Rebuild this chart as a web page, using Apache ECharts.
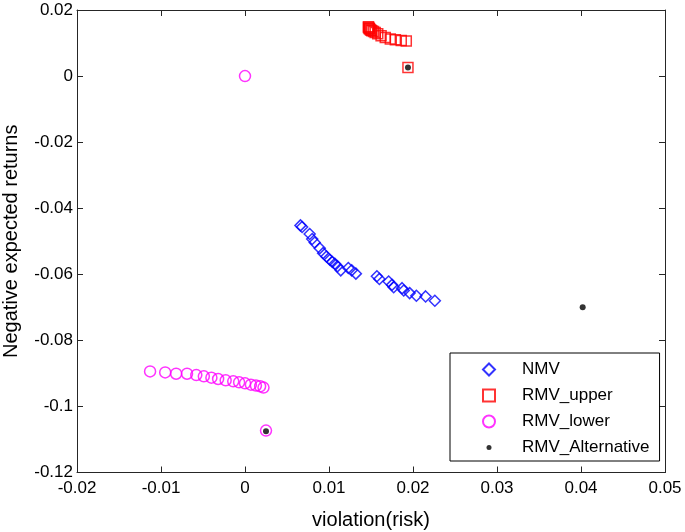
<!DOCTYPE html>
<html>
<head>
<meta charset="utf-8">
<script src="https://cdn.jsdelivr.net/npm/echarts@6/dist/echarts.min.js"></script>
<style>
html,body{margin:0;padding:0;background:#fff;}
#chart{width:685px;height:532px;}
</style>
</head>
<body>
<div id="chart"></div>
<script>
const seriesNames = ['NMV', 'RMV_upper', 'RMV_lower', 'RMV_Alternative'];

const nmvX = [0.0066,0.0068,0.0077,0.0080,0.0083,0.0089,0.0093,0.0097,0.0101,0.0104,0.0107,0.0110,0.0114,0.0123,0.0127,0.0132,0.0157,0.0160,0.0171,0.0175,0.0177,0.0187,0.0189,0.0196,0.0204,0.0215,0.0226];
const nmvY = [-0.0452,-0.0457,-0.0478,-0.0493,-0.0504,-0.0521,-0.0536,-0.0546,-0.0556,-0.0563,-0.0568,-0.0576,-0.0588,-0.0581,-0.0588,-0.0598,-0.0606,-0.0614,-0.0622,-0.0632,-0.0639,-0.0642,-0.0649,-0.0657,-0.0665,-0.0667,-0.0680];

const upperX = [0.0147,0.0147,0.0148,0.0148,0.0149,0.0150,0.0151,0.0153,0.0155,0.0158,0.0162,0.0167,0.0173,0.0179,0.0186,0.0192,0.0194];
const upperY = [0.0149,0.0147,0.0145,0.0143,0.0141,0.0139,0.0137,0.0135,0.0132,0.0128,0.0122,0.0117,0.0112,0.0110,0.0108,0.0106,0.0026];

const lowerX = [-0.0113,-0.0095,-0.0082,-0.0069,-0.0058,-0.0049,-0.0040,-0.0032,-0.0023,-0.0014,-0.0007,0.0000,0.0007,0.0013,0.0018,0.0022,0.0025,0.0000];
const lowerY = [-0.0894,-0.0897,-0.0901,-0.0901,-0.0905,-0.0909,-0.0913,-0.0917,-0.0921,-0.0924,-0.0927,-0.0930,-0.0934,-0.0937,-0.0939,-0.0943,-0.1073,0.0000];

const altX = [0.0194, 0.0025, 0.0402];
const altY = [0.0026, -0.1075, -0.0700];

const xTickLabels = ['-0.02','-0.01','0','0.01','0.02','0.03','0.04','0.05'];
const yTickLabels = ['-0.12','-0.1','-0.08','-0.06','-0.04','-0.02','0','0.02'];

const xMin = -0.02, xMax = 0.05, xInterval = 0.01;
const yMin = -0.12, yMax = 0.02, yInterval = 0.02;

function pairs(xs, ys) { return xs.map((x, i) => [x, ys[i]]); }

const FONT = 'Liberation Sans, Arial, sans-serif';
const AXC = '#262626';

const chart = echarts.init(document.getElementById('chart'), null, {renderer: 'canvas'});

const baseAxisLine = {show: true, onZero: false, lineStyle: {color: AXC, width: 1}};
const baseTick = {show: true, inside: true, length: 6, lineStyle: {color: AXC, width: 1}};

// small dot icon padded inside a 12x12 box so the legend keeps it small
const smallDotIcon = 'path://M0,0 M12,12 M6,3.5 A2.5,2.5 0 1,1 6,8.5 A2.5,2.5 0 1,1 6,3.5 Z';

chart.setOption({
  animation: false,
  backgroundColor: '#fff',
  grid: {left: 77, right: 20, top: 10, bottom: 59.5, containLabel: false, outerBoundsMode: 'none'},
  legend: {
    orient: 'vertical',
    left: 450, top: 353,
    padding: [8, 10, 5, 32],
    itemWidth: 12, itemHeight: 12, itemGap: 9,
    symbolKeepAspect: true,
    borderColor: '#000', borderWidth: 1,
    backgroundColor: '#fff',
    textStyle: {fontFamily: FONT, fontSize: 17, color: '#000', lineHeight: 17, padding: [0, 0, 0, 22]},
    data: [
      {name: 'NMV'},
      {name: 'RMV_upper'},
      {name: 'RMV_lower'},
      {name: 'RMV_Alternative', icon: smallDotIcon}
    ]
  },
  xAxis: [{
    type: 'value', min: xMin, max: xMax, interval: xInterval,
    position: 'bottom',
    name: 'violation(risk)', nameLocation: 'middle', nameGap: 38, nameMoveOverlap: false,
    nameTextStyle: {fontFamily: FONT, fontSize: 20, color: '#000'},
    axisLine: baseAxisLine, axisTick: baseTick, splitLine: {show: false},
    axisLabel: {fontFamily: FONT, fontSize: 17, color: '#000', margin: 7,
      formatter: v => xTickLabels[Math.round((v - xMin) / xInterval)]}
  }, {
    type: 'value', min: xMin, max: xMax, interval: xInterval,
    position: 'top',
    axisLine: baseAxisLine, axisTick: baseTick, splitLine: {show: false},
    axisLabel: {show: false}
  }],
  yAxis: [{
    type: 'value', min: yMin, max: yMax, interval: yInterval,
    position: 'left',
    name: 'Negative expected returns', nameLocation: 'middle', nameGap: 56, nameMoveOverlap: false,
    nameTextStyle: {fontFamily: FONT, fontSize: 20, color: '#000'},
    axisLine: baseAxisLine, axisTick: baseTick, splitLine: {show: false},
    axisLabel: {fontFamily: FONT, fontSize: 17, color: '#000', margin: 4,
      formatter: v => yTickLabels[Math.round((v - yMin) / yInterval)]}
  }, {
    type: 'value', min: yMin, max: yMax, interval: yInterval,
    position: 'right',
    axisLine: baseAxisLine, axisTick: baseTick, splitLine: {show: false},
    axisLabel: {show: false}
  }],
  series: [{
    name: 'NMV', type: 'scatter', symbol: 'diamond', symbolSize: 11,
    itemStyle: {color: 'rgba(0,0,0,0)', borderColor: '#0000ff', borderWidth: 1.5},
    data: pairs(nmvX, nmvY)
  }, {
    name: 'RMV_upper', type: 'scatter', symbol: 'rect', symbolSize: 10,
    itemStyle: {color: 'rgba(0,0,0,0)', borderColor: '#ff0000', borderWidth: 1.5},
    data: pairs(upperX, upperY)
  }, {
    name: 'RMV_lower', type: 'scatter', symbol: 'circle', symbolSize: 11,
    itemStyle: {color: 'rgba(0,0,0,0)', borderColor: '#ff00ff', borderWidth: 1.5},
    data: pairs(lowerX, lowerY)
  }, {
    name: 'RMV_Alternative', type: 'scatter', symbol: 'circle', symbolSize: 6,
    itemStyle: {color: '#000'},
    data: pairs(altX, altY)
  }]
});
</script>
</body>
</html>
